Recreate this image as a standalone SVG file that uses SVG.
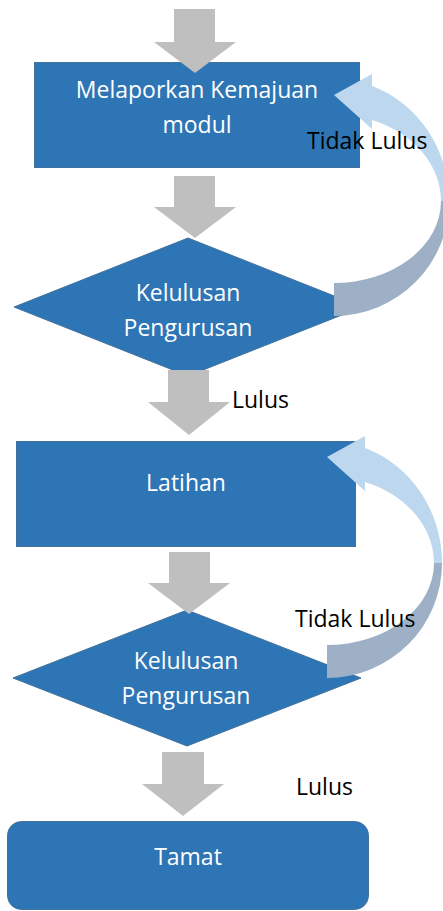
<svg xmlns="http://www.w3.org/2000/svg" xmlns:xlink="http://www.w3.org/1999/xlink" width="443" height="911" viewBox="0 0 443 911">
  <style>
    .node { fill: #2E75B6; stroke: #41719C; stroke-width: 1; }
    .ntext { font-family: "Open Sans", "Noto Sans", sans-serif; font-size: 23px; fill: #FFFFFF; text-anchor: middle; }
    .label { font-family: "Open Sans", "Noto Sans", sans-serif; font-size: 23px; fill: #000000; }
    .flow { fill: #BFBFBF; }
    .loop-front { fill: #BDD7EE; }
    .loop-back { fill: #9DB0C5; }
  </style>
  <defs>
    <!-- curved return arrow: head points left at the top, tail ends at the bottom left -->
    <g id="loopArrow">
      <path class="loop-back" d="M442,563 A115,115 0 0 1 327,678 L327,645 A107,82 0 0 0 434,563 Z"/>
      <path class="loop-front" d="M327,457 L365,436 L365,448 A115,122 0 0 1 442,563 L434,563 A107,87 0 0 0 365,482 L365,491 Z"/>
    </g>
  </defs>

  <g id="node-melaporkan">
    <rect class="node" x="34.5" y="62.5" width="325" height="105"/>
    <text class="ntext" x="197" y="98">Melaporkan Kemajuan</text>
    <text class="ntext" x="197" y="133">modul</text>
  </g>
  <g id="node-kelulusan-1">
    <polygon class="node" points="188,238 362,307 188,376 14,307"/>
    <text class="ntext" x="188" y="301">Kelulusan</text>
    <text class="ntext" x="188" y="336">Pengurusan</text>
  </g>
  <g id="node-latihan">
    <rect class="node" x="16.5" y="441.5" width="339" height="105"/>
    <text class="ntext" x="186" y="491">Latihan</text>
  </g>
  <g id="node-kelulusan-2">
    <polygon class="node" points="187,610 361,678 187,746 13,678"/>
    <text class="ntext" x="186" y="669">Kelulusan</text>
    <text class="ntext" x="186" y="704">Pengurusan</text>
  </g>
  <g id="node-tamat">
    <rect class="node" x="7.5" y="821.5" width="361" height="88" rx="14" ry="14"/>
    <text class="ntext" x="188" y="865">Tamat</text>
  </g>

  <g id="connectors">
    <polygon class="flow" points="174,9 215,9 215,42 236,42 195,73 154,42 174,42"/>
    <polygon class="flow" points="174,176 215,176 215,207 236,207 195,238 154,207 174,207"/>
    <polygon class="flow" points="168,370 209,370 209,402 230,402 189,435 148,402 168,402"/>
    <polygon class="flow" points="169,552 210,552 210,583 230,583 189,614 148,583 169,583"/>
    <polygon class="flow" points="162,752 204,752 204,784 224,784 183,816 142,784 162,784"/>
    <use xlink:href="#loopArrow" transform="translate(7,-362)"/>
    <use xlink:href="#loopArrow"/>
  </g>

  <g id="labels">
    <text class="label" x="307" y="149">Tidak Lulus</text>
    <text class="label" x="232" y="408">Lulus</text>
    <text class="label" x="295" y="627">Tidak Lulus</text>
    <text class="label" x="296" y="795">Lulus</text>
  </g>
</svg>
